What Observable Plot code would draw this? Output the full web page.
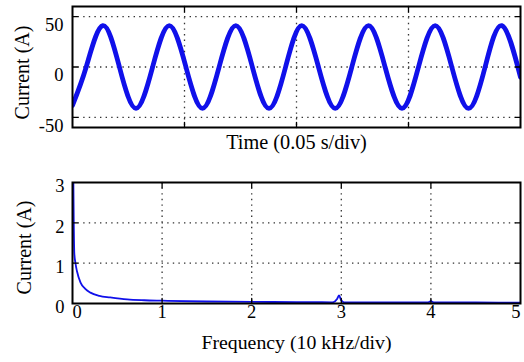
<!DOCTYPE html>
<html>
<head>
<meta charset="utf-8">
<script src="https://cdn.jsdelivr.net/npm/d3@7"></script>
<script src="https://cdn.jsdelivr.net/npm/@observablehq/plot@0.6"></script>
<style>
  html, body { margin: 0; padding: 0; background: white; }
  #chart { width: 524px; }
  #chart svg { display: block; }
</style>
</head>
<body>
<div id="chart"></div>
<script>
// ---- Top panel: current waveform (key points) ----
const timeS = [0, 0.00612, 0.01353, 0.02094, 0.02835, 0.03576, 0.04321, 0.05063, 0.05804, 0.06545,
  0.0729, 0.08031, 0.08772, 0.09513, 0.10237, 0.10982, 0.11728, 0.12469, 0.13214, 0.13955,
  0.1471, 0.15446, 0.16192, 0.16933, 0.17679, 0.1842, 0.19165, 0.2];
const currentA = [-38, 0, 41, 0, -41, 0, 41, 0, -41, 0,
  41, 0, -41, 0, 41, 0, -41, 0, 41, 0,
  -41, 0, 41, 0, -41, 0, 41, -10];
const timeGrid = [0.05, 0.1, 0.15];
const currentTicks = [-50, 0, 50];

// ---- Bottom panel: spectrum ----
const freqDiv = [0.008, 0.014, 0.02, 0.033, 0.05, 0.09, 0.14, 0.2, 0.3, 0.42, 0.61, 0.8, 1.0, 1.5, 2.0, 2.5,
  2.9, 2.955, 2.975, 2.995, 3.03, 3.5, 3.97, 4.0, 4.03, 4.5, 5.0];
const ampA = [3.4, 2.0, 1.25, 1.0, 0.8, 0.52, 0.37, 0.27, 0.19, 0.15, 0.1, 0.08, 0.07, 0.05, 0.04, 0.035,
  0.03, 0.12, 0.2, 0.1, 0.03, 0.03, 0.03, 0.06, 0.03, 0.025, 0.02];
const freqTicks = [0, 1, 2, 3, 4, 5];
const ampTicks = [0, 1, 2, 3];

const serif = "'Liberation Serif', 'Times New Roman', serif";
const waveBlue = "#1010ea";
const gridStyle = {stroke: "#333", strokeOpacity: 1, strokeDasharray: "1.4,4.2", strokeWidth: 1.3};
const tickShape = {draw(context, l) { context.moveTo(0, 0); context.lineTo(0, -l); }};
const inTick = (data, channel, anchor, rotate) =>
  Plot.vector(data, {[channel]: d => d, frameAnchor: anchor, rotate, length: 5, anchor: "start",
    shape: tickShape, stroke: "black", strokeWidth: 1.3});

const topPlot = Plot.plot({
  width: 524, height: 170,
  marginLeft: 72, marginRight: 4, marginTop: 6, marginBottom: 43,
  x: {domain: [0, 0.2], axis: null},
  y: {domain: [-60, 60], axis: null},
  style: {fontFamily: serif, fontSize: "18px", background: "white", overflow: "visible", color: "black"},
  marks: [
    Plot.gridX(timeGrid, gridStyle),
    Plot.gridY(currentTicks, gridStyle),
    Plot.line(timeS.map((t, i) => ({t, v: currentA[i]})),
      {x: "t", y: "v", curve: "natural", stroke: waveBlue, strokeWidth: 4.8, clip: true}),
    inTick(timeGrid, "x", "bottom", 0),
    inTick(timeGrid, "x", "top", 180),
    inTick(currentTicks, "y", "left", 90),
    inTick(currentTicks, "y", "right", -90),
    Plot.frame({stroke: "black", strokeWidth: 2}),
    Plot.text(currentTicks, {y: d => d, frameAnchor: "left", dx: -9, dy: 8.5, textAnchor: "end", text: d => String(d), fill: "black", fontSize: 18.5}),
    Plot.text(["Current (A)"], {frameAnchor: "left", textAnchor: "middle", dx: -50, dy: 5.5, rotate: -90, fontSize: 20, fill: "black"}),
    Plot.text(["Time (0.05 s/div)"], {frameAnchor: "bottom", dy: 21, fontSize: 20.3, fill: "black"})
  ]
});

const bottomPlot = Plot.plot({
  width: 524, height: 192,
  marginLeft: 72, marginRight: 4, marginTop: 12, marginBottom: 59,
  x: {domain: [0, 5], axis: null},
  y: {domain: [0, 3], axis: null},
  style: {fontFamily: serif, fontSize: "18.5px", background: "white", overflow: "visible", color: "black"},
  marks: [
    Plot.gridX(freqTicks.slice(1, -1), gridStyle),
    Plot.gridY(ampTicks.slice(1, -1), gridStyle),
    Plot.line(freqDiv.map((f, i) => ({f, a: ampA[i]})),
      {x: "f", y: "a", curve: "monotone-x", stroke: waveBlue, strokeWidth: 1.8, clip: true}),
    inTick(freqTicks.slice(1, -1), "x", "bottom", 0),
    inTick(freqTicks.slice(1, -1), "x", "top", 180),
    inTick(ampTicks.slice(1, -1), "y", "left", 90),
    inTick(ampTicks.slice(1, -1), "y", "right", -90),
    Plot.frame({stroke: "black", strokeWidth: 2}),
    Plot.text(ampTicks, {y: d => d, frameAnchor: "left", dx: -8, dy: 4, textAnchor: "end", text: d => String(d), fill: "black"}),
    Plot.text(freqTicks.filter(d => d === 0), {x: d => d, frameAnchor: "bottom", dy: 14, textAnchor: "start", text: d => String(d), fill: "black"}),
    Plot.text(freqTicks.filter(d => d > 0 && d < 5), {x: d => d, frameAnchor: "bottom", dy: 14, text: d => String(d), fill: "black"}),
    Plot.text(freqTicks.filter(d => d === 5), {x: d => d, frameAnchor: "bottom", dy: 14, textAnchor: "end", text: d => String(d), fill: "black"}),
    Plot.text(["Current (A)"], {frameAnchor: "left", textAnchor: "middle", dx: -48, dy: 4.5, rotate: -90, fontSize: 20, fill: "black"}),
    Plot.text(["Frequency (10 kHz/div)"], {frameAnchor: "bottom", dy: 45, fontSize: 19.8, fill: "black"})
  ]
});

const root = document.getElementById("chart");
root.appendChild(topPlot);
root.appendChild(bottomPlot);
</script>
</body>
</html>
